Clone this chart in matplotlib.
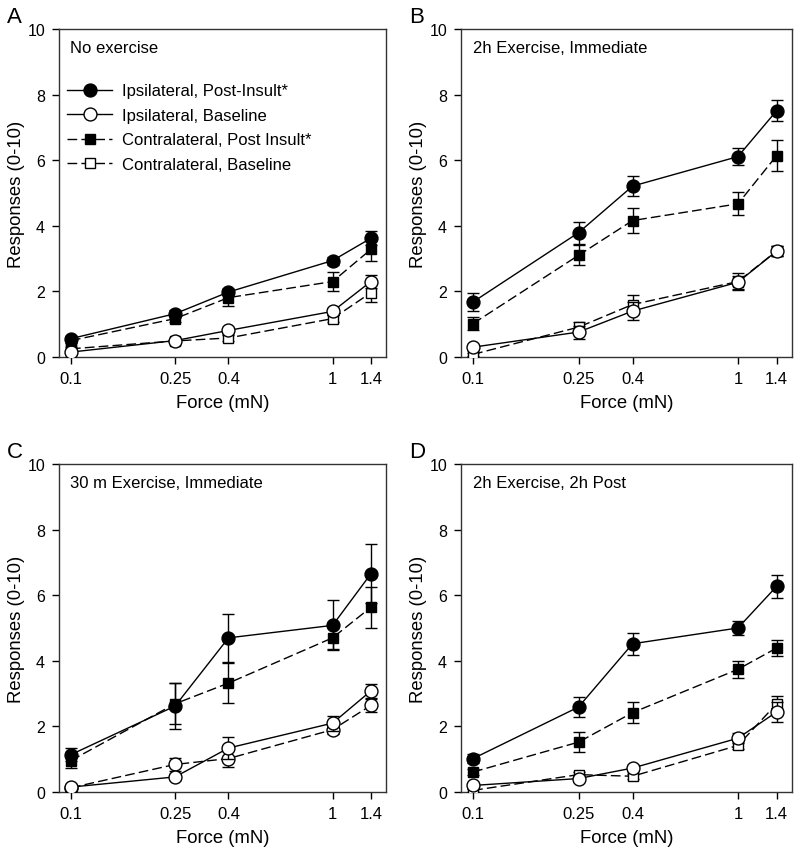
import matplotlib
matplotlib.use("Agg")
import matplotlib.pyplot as plt
from matplotlib.ticker import FixedLocator, NullLocator

plt.rcParams['font.family'] = ['Liberation Sans', 'DejaVu Sans']

force = [0.1, 0.25, 0.4, 1, 1.4]
xtick_labels = ["0.1", "0.25", "0.4", "1", "1.4"]

series_names = ["Ipsilateral, Post-Insult*", "Ipsilateral, Baseline",
                "Contralateral, Post Insult*", "Contralateral, Baseline"]

panel_letters = ["A", "B", "C", "D"]
panel_titles = ["No exercise", "2h Exercise, Immediate",
                "30 m Exercise, Immediate", "2h Exercise, 2h Post"]

# Panel A
a_ipsi_post = [0.56, 1.32, 1.98, 2.94, 3.62]
a_ipsi_post_err = [0.08, 0.1, 0.1, 0.12, 0.22]
a_ipsi_base = [0.15, 0.50, 0.81, 1.39, 2.30]
a_ipsi_base_err = [0.05, 0.06, 0.08, 0.1, 0.2]
a_contra_post = [0.50, 1.17, 1.81, 2.30, 3.28]
a_contra_post_err = [0.06, 0.1, 0.25, 0.3, 0.36]
a_contra_base = [0.25, 0.49, 0.58, 1.17, 1.96]
a_contra_base_err = [0.05, 0.06, 0.08, 0.1, 0.28]

# Panel B
b_ipsi_post = [1.68, 3.79, 5.21, 6.11, 7.51]
b_ipsi_post_err = [0.27, 0.33, 0.3, 0.26, 0.33]
b_ipsi_base = [0.30, 0.76, 1.40, 2.28, 3.23]
b_ipsi_base_err = [0.08, 0.2, 0.28, 0.2, 0.15]
b_contra_post = [1.02, 3.10, 4.16, 4.67, 6.14]
b_contra_post_err = [0.2, 0.3, 0.37, 0.35, 0.47]
b_contra_base = [0.08, 0.91, 1.60, 2.30, 3.23]
b_contra_base_err = [0.05, 0.15, 0.3, 0.25, 0.15]

# Panel C
c_ipsi_post = [1.14, 2.62, 4.70, 5.08, 6.65]
c_ipsi_post_err = [0.2, 0.7, 0.73, 0.76, 0.9]
c_ipsi_base = [0.15, 0.46, 1.34, 2.10, 3.08]
c_ipsi_base_err = [0.05, 0.08, 0.33, 0.23, 0.2]
c_contra_post = [0.96, 2.69, 3.32, 4.70, 5.63]
c_contra_post_err = [0.23, 0.62, 0.61, 0.33, 0.62]
c_contra_base = [0.13, 0.84, 1.02, 1.90, 2.64]
c_contra_base_err = [0.05, 0.2, 0.25, 0.12, 0.2]

# Panel D
d_ipsi_post = [1.02, 2.59, 4.52, 5.00, 6.27]
d_ipsi_post_err = [0.15, 0.3, 0.33, 0.2, 0.36]
d_ipsi_base = [0.20, 0.41, 0.73, 1.64, 2.44]
d_ipsi_base_err = [0.05, 0.08, 0.1, 0.15, 0.3]
d_contra_post = [0.61, 1.52, 2.42, 3.74, 4.39]
d_contra_post_err = [0.1, 0.3, 0.32, 0.26, 0.23]
d_contra_base = [0.05, 0.53, 0.48, 1.42, 2.69]
d_contra_base_err = [0.05, 0.08, 0.08, 0.12, 0.25]

panels = [
    (a_ipsi_post, a_ipsi_post_err, a_ipsi_base, a_ipsi_base_err,
     a_contra_post, a_contra_post_err, a_contra_base, a_contra_base_err),
    (b_ipsi_post, b_ipsi_post_err, b_ipsi_base, b_ipsi_base_err,
     b_contra_post, b_contra_post_err, b_contra_base, b_contra_base_err),
    (c_ipsi_post, c_ipsi_post_err, c_ipsi_base, c_ipsi_base_err,
     c_contra_post, c_contra_post_err, c_contra_base, c_contra_base_err),
    (d_ipsi_post, d_ipsi_post_err, d_ipsi_base, d_ipsi_base_err,
     d_contra_post, d_contra_post_err, d_contra_base, d_contra_base_err),
]
# marker of the contralateral baseline series per panel (panel C uses circles)
contra_base_markers = ["s", "s", "o", "s"]

W, H = 800, 853
fig = plt.figure(figsize=(W / 100, H / 100), dpi=100)

# axes boxes in pixels: left, top, right, bottom
boxes = [(59, 30, 386, 358), (461, 30, 792, 358),
         (59, 465, 386, 793), (461, 465, 792, 793)]

dash = (0, (7, 3))
styles = [
    dict(marker='o', ls='-', mfc='black', ms=9.3),
    dict(marker='o', ls='-', mfc='white', ms=9.3),
    dict(marker='s', ls=dash, mfc='black', ms=7.8),
    dict(marker='s', ls=dash, mfc='white', ms=7.8),
]

for i, (box, data) in enumerate(zip(boxes, panels)):
    l, t, r, b = box
    ax = fig.add_axes([l / W, 1 - b / H, (r - l) / W, (b - t) / H])
    handles = []
    for k in range(4):
        y = data[2 * k]
        err = data[2 * k + 1]
        st = dict(styles[k])
        if k == 3:
            st['marker'] = contra_base_markers[i]
            if st['marker'] == 'o':
                st['ms'] = 9.3
        eb = ax.errorbar(force, y, yerr=err, color='black', mec='black',
                         lw=1.0, elinewidth=1.0, capsize=4, capthick=1.0,
                         zorder=3 + (3 - k), **st)
        handles.append(eb.lines[0])
    ax.set_xscale('log')
    ax.set_xlim(0.09, 1.6)
    ax.set_ylim(0, 10)
    ax.xaxis.set_major_locator(FixedLocator(force))
    ax.xaxis.set_minor_locator(NullLocator())
    ax.set_xticklabels(xtick_labels)
    ax.set_yticks([0, 2, 4, 6, 8, 10])
    ax.tick_params(axis='x', direction='out', length=5, width=1,
                   labelsize=12, pad=5, top=False)
    ax.tick_params(axis='y', direction='out', length=5, width=1,
                   labelsize=11.5, pad=5, right=False)
    for sp in ax.spines.values():
        sp.set_linewidth(1.0)
        sp.set_color('#333333')
    ax.set_xlabel("Force (mN)", fontsize=13.3, labelpad=6)
    ax.set_ylabel("Responses (0-10)", fontsize=13.3, labelpad=1.5)
    ax.text(0.035, 0.965, panel_titles[i], transform=ax.transAxes,
            fontsize=12, va='top', ha='left')
    fig.text((l - 52) / W, 1 - (t - 7) / H, panel_letters[i], fontsize=16,
             ha='left', va='baseline')
    if i == 0:
        leg = ax.legend(handles, series_names, loc='upper left',
                        bbox_to_anchor=(-0.015, 0.875), frameon=False,
                        fontsize=12, handlelength=2.7, handletextpad=0.6,
                        labelspacing=0.57, borderaxespad=0.4)

fig.savefig("out.png", dpi=100)
